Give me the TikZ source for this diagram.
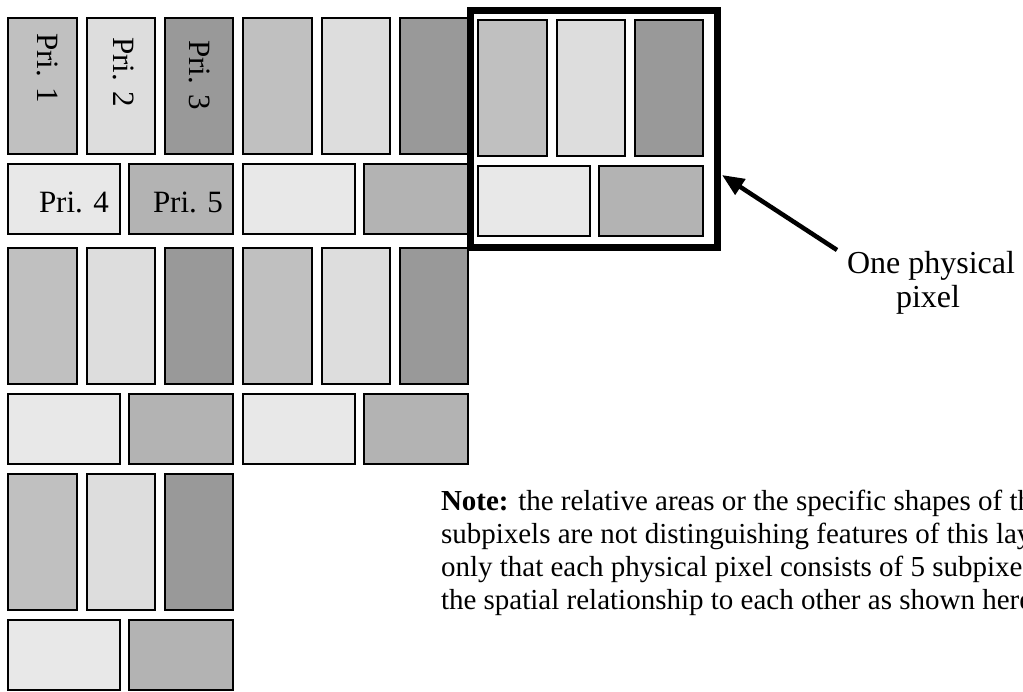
\documentclass[tikz,border=0pt]{standalone}
\usepackage{fontspec}
\setmainfont{Liberation Serif}
\usetikzlibrary{arrows.meta}
\definecolor{cA}{HTML}{C0C0C0}
\definecolor{cB}{HTML}{DDDDDD}
\definecolor{cC}{HTML}{999999}
\definecolor{cD}{HTML}{E8E8E8}
\definecolor{cE}{HTML}{B3B3B3}
\tikzset{
  sp/.style={draw=black, line width=2, anchor=north west, inner sep=0, outer sep=0},
  tall/.style={sp, minimum height=136},
  wide/.style={sp, minimum height=70},
  lbl/.style={inner sep=0, outer sep=0, font=\fontsize{31}{34}\selectfont},
  calltxt/.style={inner sep=0, outer sep=0, anchor=base, font=\fontsize{32}{34}\selectfont},
  notetxt/.style={inner sep=0, outer sep=0, anchor=base west, font=\fontsize{29}{33}\selectfont},
  framebox/.style={draw=black, line width=7, anchor=north west, inner sep=0, outer sep=0},
  arr/.style={line width=4.5, -{Triangle[length=22,width=18]}}
}
\begin{document}
\begin{tikzpicture}[x=1pt,y=-1pt]
\useasboundingbox (0,0) rectangle (1023,691);
\fill[white] (0,0) rectangle (1023,691);
\foreach \x/\y/\n in {8/18/a,243/18/b,478/20/c,8/248/d,243/248/e,8/474/f}{
  \node[tall, fill=cA, minimum width=69] (\n1) at (\x,\y) {};
  \node[tall, fill=cB, minimum width=68] (\n2) at (\x+79,\y) {};
  \node[tall, fill=cC, minimum width=68] (\n3) at (\x+157,\y) {};
  \node[wide, fill=cD, minimum width=112] (\n4) at (\x,\y+146) {};
  \node[wide, fill=cE, minimum width=104] (\n5) at (\x+121,\y+146) {};
}
% labels of the first pixel
\node[lbl, rotate=-90, anchor=base west] (p1) at (37,33) {Pri. 1};
\node[lbl, rotate=-90, anchor=base west] (p2) at (113,37) {Pri. 2};
\node[lbl, rotate=-90, anchor=base west] (p3) at (189,40) {Pri. 3};
\node[lbl, anchor=base west] (p4) at (39,212) {Pri. 4};
\node[lbl, anchor=base west] (p5) at (153,212) {Pri. 5};
% frame around one physical pixel
\node[framebox, minimum width=247, minimum height=237] (frame) at (470.5,10.5) {};
% callout
\node[calltxt] (one1) at (931,273) {One physical};
\node[calltxt] (one2) at (928,307) {pixel};
\coordinate (tail) at (837,250);
\coordinate (tip) at (722,175);
\draw[arr] (tail) -- (tip);
% note
\node[notetxt] (n1) at (441,510) {\textbf{Note:} the relative areas or the specific shapes of the};
\node[notetxt] (n2) at (441,543) {subpixels are not distinguishing features of this layout,};
\node[notetxt] (n3) at (441,576) {only that each physical pixel consists of 5 subpixels in};
\node[notetxt] (n4) at (441,609) {the spatial relationship to each other as shown here.};
\end{tikzpicture}
\end{document}
